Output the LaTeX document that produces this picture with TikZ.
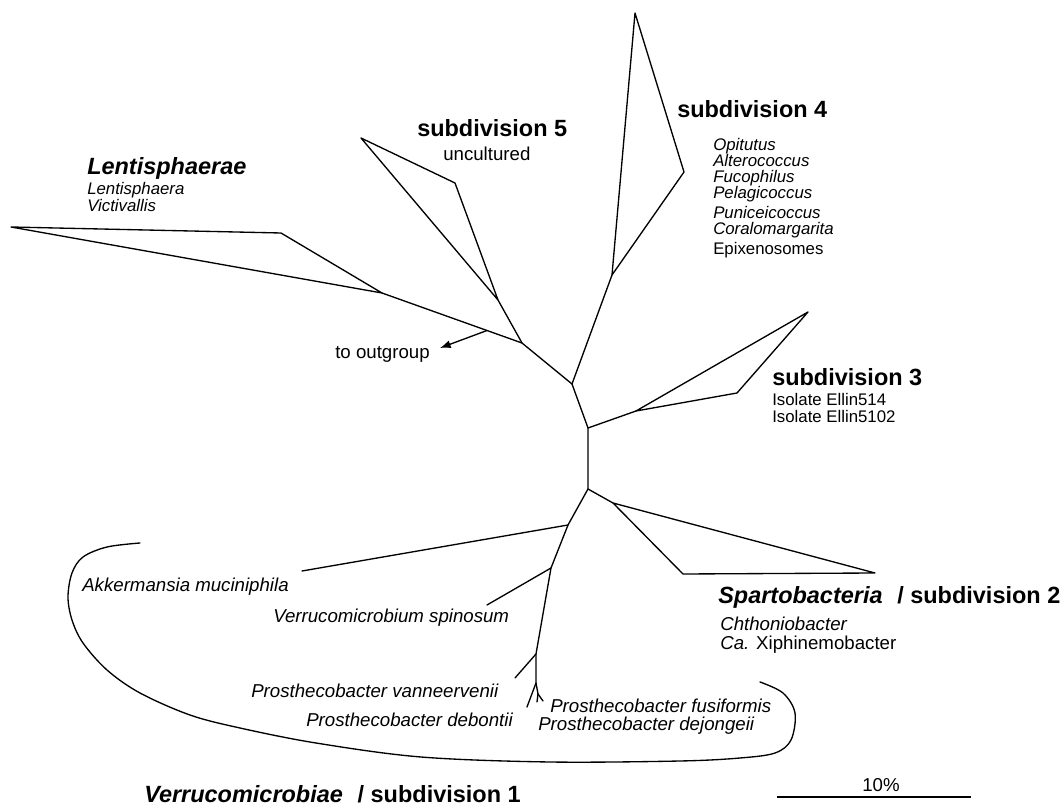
\documentclass[tikz,border=0pt]{standalone}
\usepackage{fontspec}
\setmainfont{Liberation Sans}
\usetikzlibrary{arrows.meta,calc}
\begin{document}
\begin{tikzpicture}[x=0.75pt,y=-0.75pt,
  br/.style={line width=1pt,line join=round,line cap=round},
  hd/.style={font=\fontsize{17.6}{20}\selectfont\bfseries,anchor=base west,inner sep=0pt},
  sp/.style={font=\fontsize{14}{16}\selectfont\itshape,anchor=base west,inner sep=0pt},
  rg/.style={font=\fontsize{14}{16}\selectfont,anchor=base west,inner sep=0pt},
  spt/.style={sp,font=\fontsize{12.6}{14}\selectfont\itshape},
  rgt/.style={rg,font=\fontsize{12.6}{14}\selectfont}]
\useasboundingbox (0,0) rectangle (1061,805);
% backbone nodes
\coordinate (N1) at (572,384);
\coordinate (N2) at (588,428);
\coordinate (N3) at (588,489);
\coordinate (N4) at (522,343);
\coordinate (M1) at (568,525);
\coordinate (M2) at (551,568);
\coordinate (M3) at (536,654);
\coordinate (M4) at (536,683);
\coordinate (M5) at (538,694);
% Spartobacteria
\coordinate (S0) at (613,503);
\coordinate (S1) at (875,573);
\coordinate (S2) at (683,574);
% subdivision 3
\coordinate (T0) at (636,411);
\coordinate (T1) at (808,312);
\coordinate (T2) at (737,393);
% subdivision 4
\coordinate (F0) at (612,275);
\coordinate (F1) at (635,13);
\coordinate (F2) at (684,172);
% subdivision 5
\coordinate (V0) at (498,300);
\coordinate (V1) at (361,138);
\coordinate (V2) at (455,183);
% Lentisphaerae
\coordinate (L0) at (382,293);
\coordinate (L1) at (11,227);
\coordinate (L2) at (281,233);
% outgroup
\coordinate (O0) at ($(N4)!0.25!(L0)$);
\coordinate (O1) at (440,348);
% subdivision 1 tips
\coordinate (A1) at (302,571);
\coordinate (B1) at (487,605);
\coordinate (C1) at (515,678);
\coordinate (D1) at (527,707);
\coordinate (E1) at (537,702);
\coordinate (E2) at (543,701);

\draw[br] (L0)--(N4)--(N1)--(N2)--(N3)--(M1)--(M2)--(M3)--(M4)--(M5);
\draw[br] (N4)--(V0);
\draw[br] (V0)--(V1)--(V2)--cycle;
\draw[br] (L0)--(L1)--(L2)--cycle;
\draw[br] (N1)--(F0);
\draw[br] (F0)--(F1)--(F2)--cycle;
\draw[br] (N2)--(T0);
\draw[br] (T0)--(T1)--(T2)--cycle;
\draw[br] (N3)--(S0);
\draw[br] (S0)--(S1)--(S2)--cycle;
\draw[br] (M1)--(A1);
\draw[br] (M2)--(B1);
\draw[br] (M3)--(C1);
\draw[br] (M4)--(D1);
\draw[br] (M5)--(E1);
\draw[br] (M5)--(E2);
\draw[line width=1pt,-{Latex[length=8pt,width=6pt]}] (O0)--(O1);

% curve around subdivision 1
\draw[br] plot[smooth,tension=0.55] coordinates {(140,543) (107,547) (83,557) (72,573) (68,597) (72,620) (83,643) (107,670) (140,693) (190,715) (240,728) (316,743) (421,757) (550,762) (680,761) (740,758) (775,753) (791,740) (795,713) (783,693) (760,682)};

% labels
\node[hd] (lh) at (87,175) {\textit{Lentisphaerae}};
\node[spt] (la) at (87,195) {Lentisphaera};
\node[spt] (lb) at (87,212) {Victivallis};

\node[hd] (s5) at (417,137) {subdivision 5};
\node[rg] (s5a) at (443,161) {uncultured};

\node[hd] (s4) at (677,118) {subdivision 4};
\node[spt] (s4a) at (713,151) {Opitutus};
\node[spt] (s4b) at (713,167) {Alterococcus};
\node[spt] (s4c) at (713,183) {Fucophilus};
\node[spt] (s4d) at (713,199) {Pelagicoccus};
\node[spt] (s4e) at (713,219) {Puniceicoccus};
\node[spt] (s4f) at (713,235) {Coralomargarita};
\node[rgt] (s4g) at (713,255) {Epixenosomes};

\node[rg] (og) at (335,359) {to outgroup};

\node[hd] (s3) at (772,386) {subdivision 3};
\node[rgt] (s3a) at (772,406) {Isolate Ellin514};
\node[rgt] (s3b) at (772,423) {Isolate Ellin5102};

\node[hd] (s2) at (718,604) {\textit{Spartobacteria}\hspace{0.35em} / subdivision 2};
\node[sp] (s2a) at (720,630) {Chthoniobacter};
\node[rg] (s2b) at (720,649) {\textit{Ca.} Xiphinemobacter};

\node[sp] (ak) at (82,591) {Akkermansia muciniphila};
\node[sp] (vs) at (273,623) {Verrucomicrobium spinosum};
\node[sp] (pv) at (251,697) {Prosthecobacter vanneervenii};
\node[sp] (pd) at (306,726) {Prosthecobacter debontii};
\node[sp] (pf) at (550,712) {Prosthecobacter fusiformis};
\node[sp] (pj) at (538,730) {Prosthecobacter dejongeii};

\node[hd] (s1) at (144,802) {\textit{Verrucomicrobiae}\hspace{0.35em} / subdivision 1};

\coordinate (SB1) at (777,797);
\coordinate (SB2) at (971,797);
\draw[line width=0.8pt] (SB1)--(SB2);
\node[rg,anchor=base] (sbl) at (881,791) {10\%};
\end{tikzpicture}
\end{document}
